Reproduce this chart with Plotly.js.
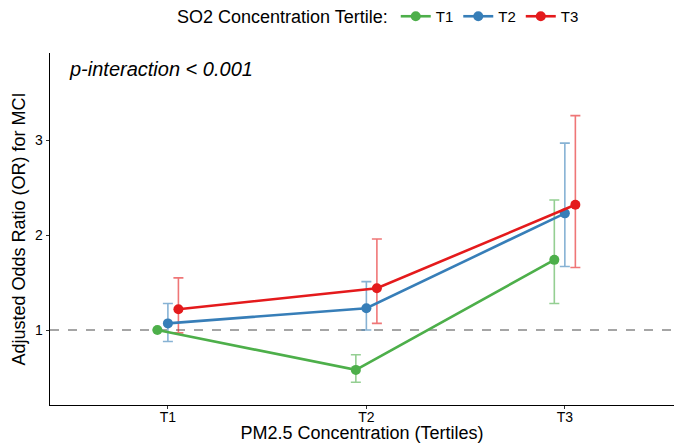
<!DOCTYPE html>
<html>
<head>
<meta charset="utf-8">
<script src="https://cdn.plot.ly/plotly-3.0.1.min.js"></script>
<style>html,body{margin:0;padding:0;background:#fff;}#chart{width:674px;height:443px;}</style>
</head>
<body>
<div id="chart"></div>
<script>
// Categories (PM2.5 tertiles)
const pmTertiles = ["T1", "T2", "T3"];
// SO2 tertile groups
const so2Groups = ["T1", "T2", "T3"];
const groupColors = ["#4DAF4A", "#377EB8", "#E41A1C"];
const groupErrColors = ["rgba(77,175,74,0.6)", "rgba(55,126,184,0.6)", "rgba(228,26,28,0.6)"];
// Odds ratios
const orSO2T1 = [1.00, 0.58, 1.74];
const orSO2T2 = [1.07, 1.23, 2.23];
const orSO2T3 = [1.22, 1.44, 2.32];
// Upper CI
const upSO2T1 = [1.00, 0.74, 2.37];
const upSO2T2 = [1.28, 1.51, 2.97];
const upSO2T3 = [1.55, 1.96, 3.26];
// Lower CI
const loSO2T1 = [1.00, 0.45, 1.28];
const loSO2T2 = [0.88, 1.00, 1.67];
const loSO2T3 = [0.97, 1.07, 1.66];

const ors = [orSO2T1, orSO2T2, orSO2T3];
const ups = [upSO2T1, upSO2T2, upSO2T3];
const los = [loSO2T1, loSO2T2, loSO2T3];
const dodge = [-0.053, 0, 0.053];

const traces = [];
// error bars first (below lines)
for (let g = 0; g < 3; g++) {
  const xs = pmTertiles.map((_, i) => i + dodge[g]);
  traces.push({
    x: xs, y: ors[g], type: "scatter", mode: "markers",
    marker: {size: 1, color: "rgba(0,0,0,0)"},
    showlegend: false, hoverinfo: "skip",
    error_y: {
      type: "data", symmetric: false,
      array: ups[g].map((u, i) => u - ors[g][i]),
      arrayminus: ors[g].map((o, i) => o - los[g][i]),
      color: groupErrColors[g], thickness: 1.6, width: 5
    }
  });
}
for (let g = 0; g < 3; g++) {
  const xs = pmTertiles.map((_, i) => i + dodge[g]);
  traces.push({
    x: xs, y: ors[g], type: "scatter", mode: "lines+markers",
    name: so2Groups[g],
    line: {color: groupColors[g], width: 2.6},
    marker: {color: groupColors[g], size: 10}
  });
}

const layout = {
  width: 674, height: 443,
  margin: {l: 50, r: 0, t: 53, b: 38},
  paper_bgcolor: "#fff", plot_bgcolor: "#fff",
  font: {family: "Arial, 'Liberation Sans', sans-serif", color: "#000", size: 14},
  showlegend: true,
  legend: {
    orientation: "h", x: 0.563, xanchor: "center", xref: "container",
    y: 1.0, yanchor: "top", yref: "container",
    title: {text: "SO2 Concentration Tertile:", side: "left", font: {size: 18}},
    font: {size: 15}, itemwidth: 30, traceorder: "normal",
    bgcolor: "rgba(0,0,0,0)"
  },
  xaxis: {
    range: [-0.594, 2.55],
    tickmode: "array", tickvals: [0, 1, 2], ticktext: pmTertiles,
    showline: true, linecolor: "#000", linewidth: 1.3,
    ticks: "outside", ticklen: 3, tickcolor: "#333", tickwidth: 1,
    ticklabelstandoff: -4,
    showgrid: false, zeroline: false,
    tickfont: {size: 14, color: "#000"},
    title: {text: "PM2.5 Concentration (Tertiles)", font: {size: 18}, standoff: 1}
  },
  yaxis: {
    range: [0.21, 3.92],
    tickmode: "array", tickvals: [1, 2, 3],
    showline: true, linecolor: "#000", linewidth: 1.3,
    ticks: "outside", ticklen: 3, tickcolor: "#333", tickwidth: 1,
    showgrid: false, zeroline: false,
    tickfont: {size: 14, color: "#000"},
    title: {text: "Adjusted Odds Ratio (OR) for MCI", font: {size: 18}, standoff: 4}
  },
  shapes: [{
    type: "line", xref: "paper", x0: 0, x1: 1, yref: "y", y0: 1, y1: 1,
    line: {color: "#888", width: 1.6, dash: "dash"}, layer: "below"
  }],
  annotations: [{
    text: "<i>p-interaction < 0.001</i>", xref: "paper", yref: "paper",
    x: 0.028, y: 0.955, xanchor: "left", yanchor: "middle",
    showarrow: false, font: {size: 20, color: "#000"}
  }]
};
Plotly.newPlot("chart", traces, layout, {displayModeBar: false, staticPlot: true});
</script>
</body>
</html>
